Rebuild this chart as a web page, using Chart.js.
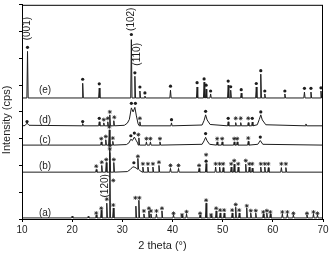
<!DOCTYPE html>
<html>
<head>
<meta charset="utf-8">
<script src="https://cdn.jsdelivr.net/npm/chart.js@4.4.0/dist/chart.umd.min.js"></script>
<style>
  html, body { margin: 0; padding: 0; background: #fff; }
  #wrap { width: 331px; height: 256px; }
</style>
</head>
<body>
<div id="wrap"><canvas id="xrd"></canvas></div>
<script>
// x axis ticks (2 theta, degrees)
const xTicks = [10, 20, 30, 40, 50, 60, 70];

// trace baselines (offset intensity)
const baseE = 452, baseD = 348, baseC = 276, baseB = 175, baseA = 4;

// sharp peaks: [2theta, top, foot?]
const peaksE = [[11.1,626],[22.1,507],[25.4,489],[31.8,670],[32.5,533],[33.5,478],[34.5,459],[39.6,481],[44.9,493],[46.3,511],[46.7,485],[47.6,467],[51.1,500],[51.6,481],[53.7,470],[56.7,493],[57.6,541],[58.4,467],[62.4,467],[66.3,474],[67.6,474],[69.6,478]];
const peaksD = [[22.1,356],[25.4,363],[26.3,359],[27.1,363],[27.5,389],[28.3,367],[33.5,363],[39.8,359],[51.1,363],[52.6,360],[53.6,360],[55.1,360],[55.9,362],[66.6,355]];
const peaksC = [[25.8,288],[26.7,296],[27.4,333],[28.1,290],[33.3,303],[34.8,288],[35.6,288],[37.5,288],[48.9,288],[49.9,288],[52.3,288],[52.9,288],[55.1,290]];
const peaksB = [[24.8,185],[25.9,200],[26.8,211],[27.5,248],[28.3,211],[33.1,226,186],[34.1,194],[35.1,194],[36.1,194],[37.3,200],[39.6,189],[41.2,189],[45.3,189],[46.7,207],[48.6,194],[49.4,194],[50.1,192],[51.7,194],[52.3,205],[53.1,194],[54.6,205],[55.3,194],[55.9,190],[57.6,194],[58.4,194],[59.1,192],[61.7,192],[62.6,192]];
const peaksA = [[20.0,11],[23.2,10],[24.8,15],[25.8,33],[26.9,59],[27.5,259],[28.2,41],[32.7,48],[33.3,70],[34.3,19],[35.3,30],[35.7,19],[36.8,19],[37.9,30],[40.2,15],[41.9,11],[42.8,19],[45.5,15],[46.7,59],[47.7,11],[48.7,30],[49.5,22],[50.3,22],[51.9,22],[52.6,44],[53.3,22],[54.8,41],[55.6,22],[56.6,22],[58.1,19],[58.8,22],[59.5,19],[61.9,19],[62.9,19],[64.1,15],[66.8,15],[68.1,19],[68.9,15]];

// broad features: [2theta, intensity]
const humpsD = [[10.6,349],[11.0,358],[11.4,350],[30.4,350],[31.0,358],[31.4,372],[31.8,415],[32.15,400],[32.5,417],[32.8,385],[33.15,355],[45.9,351],[46.3,368],[46.6,389],[46.9,370],[47.5,353],[56.9,352],[57.3,372],[57.6,389],[57.9,370],[58.6,352]];
const humpsC = [[30.8,278],[31.3,284],[31.7,298],[32.0,293],[32.4,306],[32.8,292],[33.05,284],[45.9,279],[46.3,292],[46.6,305],[46.9,292],[47.4,279],[57.0,279],[57.5,293],[58.0,279]];
const humpsB = [[31.0,177],[31.6,185],[32.1,195],[32.5,193],[32.8,190],[33.5,181]];

// phase markers: [2theta, intensity]
const dotsE = [[11.1,641],[22.1,522],[25.4,505],[31.8,689],[32.5,546],[33.5,493],[34.5,471],[39.6,496],[44.9,509],[46.3,523],[46.7,500],[47.6,478],[51.1,515],[51.6,494],[53.7,483],[56.7,506],[57.6,554],[58.4,478],[62.4,478],[66.3,488],[67.6,488],[69.6,490]];
const dotsD = [[11.0,364],[22.1,364],[25.4,376],[31.8,432],[32.6,432],[39.8,371],[46.6,402],[51.1,376],[55.9,376],[57.6,400]];
const starsD = [[26.3,371],[27.1,376],[27.5,400],[28.4,380],[33.5,376],[52.6,376],[53.6,376],[55.1,376]];
const dotsC = [[31.7,311],[32.4,321],[46.6,319],[57.5,306]];
const starsC = [[25.8,300],[26.7,308],[27.4,344],[28.1,302],[33.2,315],[34.8,300],[35.6,300],[37.5,300],[48.9,300],[49.9,300],[52.3,300],[52.9,300],[55.1,302]];
const dotsB = [[32.3,210],[46.7,216]];
const starsB = [[24.8,197],[25.9,212],[26.8,222],[27.5,262],[28.3,222],[33.1,234],[34.1,206],[35.1,206],[36.1,206],[37.3,212],[39.6,200],[41.2,200],[45.3,200],[46.7,240],[48.6,206],[49.4,206],[50.1,206],[51.7,206],[52.3,218],[53.1,206],[54.6,218],[55.3,206],[55.9,206],[57.6,206],[58.4,206],[59.1,206],[61.7,206],[62.6,206]];
const starsA = [[24.8,22],[25.8,40],[26.9,74],[27.5,274],[28.2,144],[28.2,52],[32.6,79],[33.4,79],[34.3,30],[35.3,40],[35.7,30],[36.8,30],[37.9,40],[40.2,21],[41.9,15],[42.8,27],[45.5,21],[46.7,70],[47.7,15],[48.7,40],[49.5,33],[50.3,33],[51.9,33],[52.6,54],[53.3,33],[54.8,49],[55.6,31],[56.6,31],[58.1,26],[58.8,31],[59.5,26],[61.9,26],[62.9,26],[64.1,21],[66.8,21],[68.1,26],[68.9,21]];

// text annotations
const traceLabels = ['(a)', '(b)', '(c)', '(d)', '(e)'];
const traceLabelY = [21, 196, 295, 369, 480];
const traceLabelX = 14.6;
const hklLabels = ['(001)', '(102)', '(110)', '(120)'];
const hklX = [11.0, 31.8, 33.0, 26.5];
const hklY = [711, 746, 615, 124];

const INK = '#1e1e1e';
const FONT = '"Liberation Sans", Arial, sans-serif';

function profile(base, peaks, humps) {
  const pts = [{ x: 10, y: base }, { x: 70, y: base }];
  peaks.forEach(p => {
    const foot = p.length > 2 ? p[2] : base;
    pts.push({ x: p[0] - 0.13, y: foot }, { x: p[0], y: p[1] }, { x: p[0] + 0.13, y: foot });
  });
  (humps || []).forEach(h => pts.push({ x: h[0], y: h[1] }));
  return pts.sort((a, b) => a.x - b.x);
}

function trace(data) {
  return { type: 'line', data, borderColor: INK, borderWidth: 1, pointRadius: 0, tension: 0, fill: false };
}

function marks(list, style) {
  return {
    type: 'scatter',
    data: list.map(m => ({ x: m[0], y: m[1] })),
    pointStyle: style,
    pointRadius: style === 'star' ? 2 : 1.6,
    borderWidth: style === 'star' ? 0.8 : 0,
    borderColor: INK,
    backgroundColor: INK,
  };
}

const textPlugin = {
  id: 'xrdText',
  afterDraw(chart) {
    const { ctx, chartArea: a, scales: { x, y } } = chart;
    ctx.save();
    // frame top / right
    ctx.strokeStyle = '#000';
    ctx.lineWidth = 1;
    ctx.strokeRect(a.left + 0.5, a.top + 0.5, a.right - a.left - 1, a.bottom - a.top);
    ctx.fillStyle = INK;
    ctx.font = '10px ' + FONT;
    ctx.textAlign = 'center';
    ctx.textBaseline = 'middle';
    traceLabels.forEach((t, i) => ctx.fillText(t, x.getPixelForValue(traceLabelX), y.getPixelForValue(traceLabelY[i])));
    hklLabels.forEach((t, i) => {
      ctx.save();
      ctx.translate(x.getPixelForValue(hklX[i]), y.getPixelForValue(hklY[i]));
      ctx.rotate(-Math.PI / 2);
      ctx.fillText(t, 0, 0);
      ctx.restore();
    });
    // axis titles
    ctx.font = '11px ' + FONT;
    ctx.fillText('2 theta (°)', x.getPixelForValue(38), 246);
    ctx.save();
    ctx.translate(7, y.getPixelForValue(370));
    ctx.rotate(-Math.PI / 2);
    ctx.fillText('Intensity (cps)', 0, 0);
    ctx.restore();
    ctx.restore();
  }
};

new Chart(document.getElementById('xrd'), {
  data: {
    datasets: [
      trace(profile(baseA, peaksA)),
      trace(profile(baseB, peaksB, humpsB)),
      trace(profile(baseC, peaksC, humpsC)),
      trace(profile(baseD, peaksD, humpsD)),
      trace(profile(baseE, peaksE)),
      marks(dotsE, 'circle'),
      marks(dotsD, 'circle'),
      marks(dotsC, 'circle'),
      marks(dotsB, 'circle'),
      marks(starsD, 'star'),
      marks(starsC, 'star'),
      marks(starsB, 'star'),
      marks(starsA, 'star'),
    ]
  },
  options: {
    responsive: true,
    maintainAspectRatio: false,
    animation: false,
    events: [],
    layout: { padding: { top: 3, right: 8, left: 0, bottom: 0 } },
    plugins: { legend: { display: false }, tooltip: { enabled: false } },
    scales: {
      x: {
        type: 'linear',
        min: 10, max: 70,
        afterBuildTicks: s => { s.ticks = xTicks.map(v => ({ value: v })); },
        afterFit: s => { s.height = 37; },
        ticks: { color: INK, font: { family: FONT, size: 10 }, padding: 2, maxRotation: 0 },
        grid: { drawOnChartArea: false, drawTicks: true, tickLength: 3, color: '#000' },
        border: { display: true, color: '#000', width: 1 },
      },
      y: {
        min: 0, max: 800,
        ticks: { stepSize: 100, display: false },
        afterFit: s => { s.width = 22; },
        grid: { drawOnChartArea: false, drawTicks: true, tickLength: 3, color: '#000' },
        border: { display: true, color: '#000', width: 1 },
      }
    }
  },
  plugins: [textPlugin]
});
</script>
</body>
</html>
